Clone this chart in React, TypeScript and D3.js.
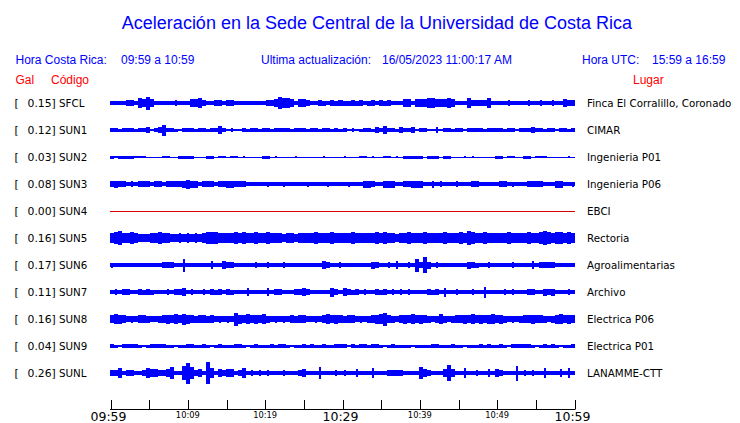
import React from "react";
import * as d3 from "d3";

// ---------- data ----------
const codes = ["SFCL", "SUN1", "SUN2", "SUN3", "SUN4", "SUN5", "SUN6", "SUN7", "SUN8", "SUN9", "SUNL"];
const gals = ["0.15", "0.12", "0.03", "0.08", "0.00", "0.16", "0.17", "0.11", "0.16", "0.04", "0.26"];
const places = [
  "Finca El Corralillo, Coronado",
  "CIMAR",
  "Ingenieria P01",
  "Ingenieria P06",
  "EBCI",
  "Rectoria",
  "Agroalimentarias",
  "Archivo",
  "Electrica P06",
  "Electrica P01",
  "LANAMME-CTT",
];

// Trace envelope thickness (pixels, base-36 digit) for consecutive time bins across the hour
const traceSFCL = "4444664a8d" + "8444446444" + "88a6446646" + "6444444446" + "68caa84886" + "4465465655" + "6564564656" + "444884888a" + "a888a8444a" + "6666a44446" + "4444644644" + "644866";
const traceSUN1 = "4434443446" + "246b443244" + "4344344842" + "4224344344" + "3444434443" + "4434434342" + "4234436484" + "4364462442" + "2624434424" + "4443444434" + "4244464434" + "424434";
const traceSUN2 = "3233332221" + "1112211333" + "3111331221" + "2212111133" + "1211112111" + "1112111121" + "1122121122" + "1213333313" + "3313311121" + "2111113312" + "2113312221" + "111121";
const traceSUN3 = "6766464666" + "4664666679" + "7746664667" + "7666444445" + "4445444445" + "4444544445" + "4447764477" + "7446677744" + "7464446444" + "6644444664" + "5444666644" + "477445";
const traceSUN4 = "1";
const traceSUN5 = "aceaaca888" + "aacaa88a8a" + "8a8acccaaa" + "acacaacaac" + "aaa8aa8aaa" + "acaaacaaaa" + "caaaaacaca" + "a8aacaaaca" + "aaacaaacae" + "caacaaaaac" + "aaaacaacec" + "accaca";
const traceSUN6 = "5444444444" + "44466644d4" + "4444484486" + "6444446446" + "4446444444" + "4448644644" + "4444476446" + "484464d6g7" + "4644444447" + "6544644444" + "6444484666" + "644444";
const traceSUN7 = "4646644656" + "5444646684" + "6446465646" + "5444844448" + "4664446686" + "4444496486" + "5646446564" + "6464644446" + "5649446444" + "644b444464" + "6444664476" + "744464";
const traceSUN8 = "8a98676887" + "667898a8b9" + "8788786767" + "6d98a898a7" + "6767687886" + "6768a89878" + "8676789ad8" + "76898a8987" + "67a7678898" + "a8989a8976" + "7678898876" + "79a898";
const traceSUN9 = "4324444323" + "4444332334" + "4334323433" + "3443234333" + "4344323343" + "4334334442" + "4344344323" + "4333323333" + "4433343323" + "3343433432" + "4444432343" + "432334";
const traceSUNL = "66a466446a" + "88668c44el" + "c684ma4868" + "846a464646" + "4446444684" + "44c4446464" + "48444a4446" + "6664444c86" + "4448g844a4" + "4644848644" + "4f464644a4" + "4484a4";

const traces = [traceSFCL, traceSUN1, traceSUN2, traceSUN3, traceSUN4, traceSUN5, traceSUN6, traceSUN7, traceSUN8, traceSUN9, traceSUNL];
const traceColors = ["#0000ff", "#0000ff", "#0000ff", "#0000ff", "#dd0000", "#0000ff", "#0000ff", "#0000ff", "#0000ff", "#0000ff", "#0000ff"];

const tickMinutes = [0, 5, 10, 15, 20, 25, 30, 35, 40, 45, 50, 55, 60];
const labelMinutes = [0, 10, 20, 30, 40, 50, 60];
const labelTexts = ["09:59", "10:09", "10:19", "10:29", "10:39", "10:49", "10:59"];
const labelBig = [true, false, false, true, false, false, true];

const title = "Aceleración en la Sede Central de la Universidad de Costa Rica";

// ---------- layout ----------
const W = 740;
const H = 423;
const X0 = 110;
const X1 = 575;
const AXIS_Y = 409.5;

const xTime = d3.scaleLinear().domain([0, 60]).range([X0 + 0.5, X1 - 0.5]);
const yRow = d3.scalePoint<string>().domain(codes).range([103, 373]);

const SANS = "'Liberation Sans', Arial, Helvetica, sans-serif";
const DEJAVU = "'DejaVu Sans', Verdana, sans-serif";
const BLUE = "#0000ff";
const RED = "#ff0000";

function Trace({ s, y, color }: { s: string; y: number; color: string }) {
  const vals = s.split("").map((c) => parseInt(c, 36));
  const base = d3.min(vals) as number;
  const xb = d3.scaleLinear().domain([0, vals.length]).range([X0, X1]);
  const step = xb(1) - xb(0);
  return (
    <g fill={color} shapeRendering="crispEdges">
      <rect x={X0} width={X1 - X0} y={y - base / 2} height={base} />
      {vals.map((t, i) => {
        if (t <= base) return null;
        const left = i > 0 && vals[i - 1] > base;
        const right = i < vals.length - 1 && vals[i + 1] > base;
        const w = left || right ? step : 2;
        return <rect key={i} x={xb(i) + (step - w) / 2} width={w} y={y - t / 2} height={t} />;
      })}
    </g>
  );
}

export default function App() {
  return (
    <svg
      width={W}
      height={H}
      viewBox={`0 0 ${W} ${H}`}
      style={{ position: "absolute", left: 0, top: 0, background: "#fff" }}
    >
      <rect x={0} y={0} width={W} height={H} fill="#fff" />
      {/* title */}
      <text x={377} y={29} textAnchor="middle" fontFamily={SANS} fontSize={18} fill={BLUE}>
        {title}
      </text>
      {/* header line */}
      <g fontFamily={SANS} fontSize={12} fill={BLUE}>
        <text x={15.5} y={64}>Hora Costa Rica:</text>
        <text x={121} y={64}>09:59 a 10:59</text>
        <text x={261} y={64}>Ultima actualización:</text>
        <text x={382} y={64}>16/05/2023 11:00:17 AM</text>
        <text x={582} y={64}>Hora UTC:</text>
        <text x={652} y={64}>15:59 a 16:59</text>
      </g>
      <g fontFamily={SANS} fontSize={12} fill={RED}>
        <text x={15.5} y={84}>Gal</text>
        <text x={51} y={84}>Código</text>
        <text x={633} y={84}>Lugar</text>
      </g>

      {/* traces */}
      {codes.map((code, k) => {
        const y = yRow(code) as number;
        return (
          <g key={code}>
            <Trace s={traces[k]} y={y} color={traceColors[k]} />
            <g fontFamily={DEJAVU} fill="#000">
              <text x={14.5} y={y + 4} fontSize={10.8}>[</text>
              <text x={55.8} y={y + 4} fontSize={10.8} textAnchor="end">{gals[k]}]</text>
              <text x={59} y={y + 4} fontSize={10.3}>{code}</text>
              <text x={587} y={y + 4} fontSize={10.3}>{places[k]}</text>
            </g>
          </g>
        );
      })}

      {/* time axis */}
      <line x1={X0} x2={X1} y1={AXIS_Y} y2={AXIS_Y} stroke="#000" strokeWidth={1} />
      {tickMinutes.map((m) => (
        <line
          key={m}
          x1={Math.round(xTime(m)) + 0.5}
          x2={Math.round(xTime(m)) + 0.5}
          y1={400}
          y2={AXIS_Y}
          stroke="#000"
          strokeWidth={1}
        />
      ))}
      {labelMinutes.map((m, k) => (
        <text
          key={m}
          x={xTime(m) - (labelBig[k] ? 2 : 0)}
          y={labelBig[k] ? 421 : 418.3}
          textAnchor="middle"
          fontFamily={DEJAVU}
          fontSize={labelBig[k] ? 12.5 : 8.3}
          fill="#000"
        >
          {labelTexts[k]}
        </text>
      ))}
    </svg>
  );
}
